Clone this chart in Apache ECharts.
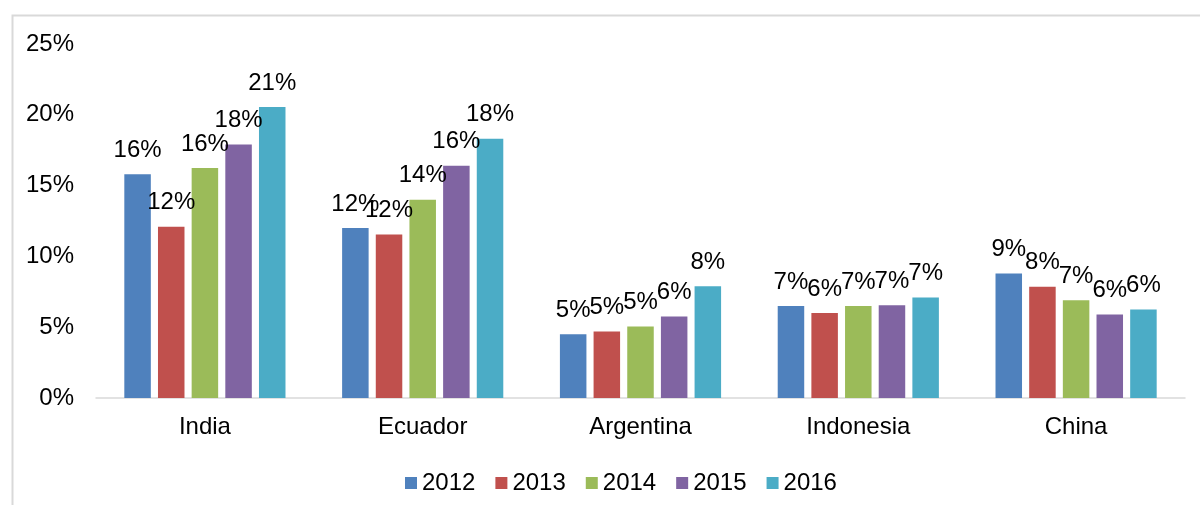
<!DOCTYPE html>
<html>
<head>
<meta charset="utf-8">
<script src="https://cdn.jsdelivr.net/npm/echarts@6/dist/echarts.min.js"></script>
<style>
html,body{margin:0;padding:0;background:#fff;}
#chart{width:1200px;height:505px;}
</style>
</head>
<body>
<div id="chart"></div>
<script>
var categories = ['India', 'Ecuador', 'Argentina', 'Indonesia', 'China'];
var years = ['2012', '2013', '2014', '2015', '2016'];
var s2012 = [15.8, 12.0, 4.5, 6.5, 8.8];
var s2013 = [12.1, 11.55, 4.7, 6.0, 7.85];
var s2014 = [16.25, 14.0, 5.05, 6.5, 6.9];
var s2015 = [17.9, 16.4, 5.75, 6.55, 5.9];
var s2016 = [20.55, 18.3, 7.9, 7.1, 6.25];
var yTicks = {min: 0, max: 25, interval: 5};
var colors = ['#4F81BD', '#C0504D', '#9BBB59', '#8064A2', '#4BACC6'];

var seriesData = [s2012, s2013, s2014, s2015, s2016];
var FONT = '"Liberation Sans", Arial, sans-serif';
var FS = 24;

var chart = echarts.init(document.getElementById('chart'));
chart.setOption({
  animation: false,
  color: colors,
  textStyle: {fontFamily: FONT},
  graphic: [{
    type: 'rect',
    left: 10, top: 13,
    shape: {width: 1300, height: 600},
    style: {fill: 'none', stroke: '#d9d9d9', lineWidth: 2},
    silent: true
  }],
  grid: {left: 96, right: 15, top: 44, bottom: 107, containLabel: false},
  legend: {
    data: years,
    left: 400,
    top: 466,
    icon: 'rect',
    itemWidth: 12,
    itemHeight: 12,
    itemGap: 20,
    itemTextGap: 5,
    textStyle: {fontSize: FS, color: '#000', fontFamily: FONT}
  },
  xAxis: {
    type: 'category',
    data: categories,
    axisLine: {lineStyle: {color: '#d9d9d9', width: 1.5}},
    axisTick: {show: false},
    axisLabel: {fontSize: FS, color: '#000', margin: 17, fontFamily: FONT}
  },
  yAxis: {
    type: 'value',
    min: yTicks.min, max: yTicks.max, interval: yTicks.interval,
    axisLine: {show: false},
    axisTick: {show: false},
    splitLine: {show: false},
    axisLabel: {fontSize: FS, color: '#000', margin: 22, fontFamily: FONT, formatter: '{value}%'}
  },
  series: years.map(function (y, i) {
    return {
      name: y,
      type: 'bar',
      data: seriesData[i],
      barGap: '27%',
      barCategoryGap: '26%',
      label: {
        show: true,
        position: 'top',
        distance: 12,
        fontSize: FS,
        color: '#000',
        fontFamily: FONT,
        formatter: function (p) { return Math.round(p.value) + '%'; }
      }
    };
  })
});
</script>
</body>
</html>
